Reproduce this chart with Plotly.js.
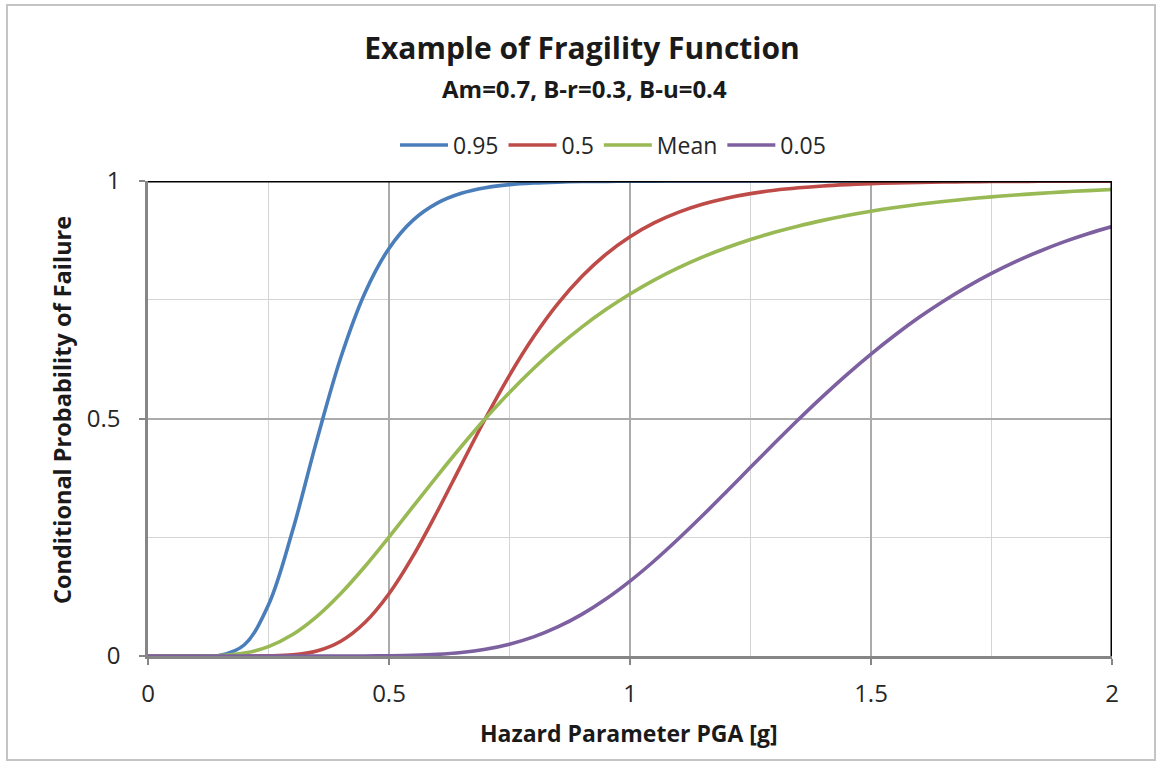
<!DOCTYPE html>
<html>
<head>
<meta charset="utf-8">
<script src="https://cdn.plot.ly/plotly-3.0.1.min.js"></script>
<style>
  html, body { margin: 0; padding: 0; background: #ffffff; }
  #chart { width: 1156px; height: 762px; }
</style>
</head>
<body>
<div id="chart"></div>
<script>
// ---- data ----
const pga = [0, 0.05, 0.10, 0.15, 0.20, 0.25, 0.30, 0.35, 0.40, 0.45, 0.50, 0.55, 0.60, 0.65, 0.70,
  0.75, 0.80, 0.85, 0.90, 0.95, 1.00, 1.05, 1.10, 1.15, 1.20, 1.25, 1.30, 1.35, 1.40, 1.45,
  1.50, 1.55, 1.60, 1.65, 1.70, 1.75, 1.80, 1.85, 1.90, 1.95, 2.00];

const p95 = [0, 0, 0, 0.0016, 0.0237, 0.1077, 0.2640, 0.4534, 0.6285, 0.7644, 0.8581, 0.9177, 0.9535,
  0.9742, 0.9859, 0.9923, 0.9958, 0.9977, 0.9988, 0.9993, 0.9996, 0.9998, 0.9999, 1, 1, 1, 1, 1, 1, 1,
  1, 1, 1, 1, 1, 1, 1, 1, 1, 1, 1];

const p50 = [0, 0, 0, 0, 0, 0.0003, 0.0024, 0.0104, 0.0311, 0.0704, 0.1310, 0.2107, 0.3037, 0.4024,
  0.5, 0.5909, 0.6719, 0.7413, 0.7989, 0.8457, 0.8828, 0.9118, 0.9340, 0.9510, 0.9638, 0.9734,
  0.9805, 0.9857, 0.9896, 0.9924, 0.9945, 0.9960, 0.9971, 0.9979, 0.9984, 0.9989, 0.9992, 0.9994,
  0.9996, 0.9997, 0.9998];

const pMean = [0, 0, 0.0001, 0.0010, 0.0061, 0.0197, 0.0451, 0.0829, 0.1316, 0.1884, 0.2505, 0.3148,
  0.3789, 0.4411, 0.5, 0.5549, 0.6053, 0.6511, 0.6924, 0.7293, 0.7621, 0.7913, 0.8170, 0.8396,
  0.8595, 0.8769, 0.8922, 0.9055, 0.9171, 0.9274, 0.9363, 0.9441, 0.9509, 0.9568, 0.9620, 0.9666,
  0.9705, 0.9740, 0.9771, 0.9798, 0.9821];

const p05 = [0, 0, 0, 0, 0, 0, 0, 0, 0, 0.0001, 0.0005, 0.0014, 0.0034, 0.0073, 0.0141, 0.0248, 0.0402,
  0.0611, 0.0876, 0.1199, 0.1576, 0.2000, 0.2462, 0.2951, 0.3458, 0.3972, 0.4483, 0.4984, 0.5466,
  0.5925, 0.6357, 0.6759, 0.7130, 0.7469, 0.7777, 0.8054, 0.8302, 0.8522, 0.8719, 0.8891, 0.9042];

const seriesNames = ["0.95", "0.5", "Mean", "0.05"];
const seriesData = [p95, p50, pMean, p05];
const seriesColors = ["#4A7EBB", "#BE4B48", "#98B954", "#7D60A0"];

const xTickVals = [0, 0.5, 1, 1.5, 2];
const xTickText = ["0", "0.5", "1", "1.5", "2"];
const yTickVals = [0, 0.5, 1];
const yTickText = ["0", "0.5", "1"];

const chartTitle = "Example of Fragility Function";
const chartSubtitle = "Am=0.7, B-r=0.3, B-u=0.4";
const xTitle = "Hazard Parameter PGA [g]";
const yTitle = "Conditional Probability of Failure";

// ---- chart ----
const FONT = "'Open Sans', Lato, sans-serif";
const traces = seriesNames.map((n, i) => ({
  x: pga, y: seriesData[i], name: n, type: "scatter", mode: "lines",
  line: { color: seriesColors[i], width: 3.6, shape: "spline", smoothing: 1 },
  hoverinfo: "x+y+name"
}));

const layout = {
  width: 1156, height: 762,
  paper_bgcolor: "#ffffff", plot_bgcolor: "#ffffff",
  margin: { l: 148, r: 44, t: 181, b: 106 },
  font: { family: FONT, color: "#262626" },
  showlegend: true,
  legend: {
    orientation: "h", x: (613 - 148) / 964, xanchor: "center", y: (656 - 145) / 475, yanchor: "middle",
    font: { size: 23, color: "#262626", family: FONT }, itemwidth: 48, tracegroupgap: 0
  },
  xaxis: {
    range: [0, 2], tickvals: xTickVals, ticktext: xTickText,
    ticks: "outside", ticklen: 6, tickwidth: 1.5, tickcolor: "#868686",
    showline: true, linecolor: "#868686", linewidth: 2.5,
    showgrid: true, gridcolor: "#ababab", gridwidth: 1.5,
    minor: { dtick: 0.25, showgrid: true, gridcolor: "#d4d4d4", gridwidth: 1.2, ticks: "" },
    zeroline: false, tickfont: { size: 24, color: "#262626", family: FONT },
    ticklabelstandoff: 8, layer: "below traces", fixedrange: true
  },
  yaxis: {
    range: [0, 1], tickvals: yTickVals, ticktext: yTickText,
    ticks: "outside", ticklen: 6, tickwidth: 1.5, tickcolor: "#868686",
    showline: true, linecolor: "#868686", linewidth: 2.5,
    showgrid: true, gridcolor: "#ababab", gridwidth: 1.5,
    minor: { dtick: 0.25, showgrid: true, gridcolor: "#d4d4d4", gridwidth: 1.2, ticks: "" },
    zeroline: false, tickfont: { size: 24, color: "#262626", family: FONT },
    ticklabelstandoff: 14, layer: "below traces", fixedrange: true
  },
  title: {
    text: "<b>" + chartTitle + "</b>", x: 582 / 1156, xanchor: "center",
    y: 1 - 48 / 762, yanchor: "middle", yref: "container",
    font: { size: 30, color: "#1a1a1a", family: FONT }
  },
  annotations: [
    { text: "<b>" + chartSubtitle + "</b>", xref: "paper", yref: "paper",
      x: (584 - 148) / 964, y: (656 - 88) / 475, xanchor: "center", yanchor: "middle",
      showarrow: false, font: { size: 24, color: "#1a1a1a", family: FONT } },
    { text: "<b>" + xTitle + "</b>", xref: "paper", yref: "paper",
      x: (629 - 148) / 964, y: (656 - 733) / 475, xanchor: "center", yanchor: "middle",
      showarrow: false, font: { size: 23, color: "#1a1a1a", family: FONT } },
    { text: "<b>" + yTitle + "</b>", xref: "paper", yref: "paper", textangle: -90,
      x: (62 - 148) / 964, y: (656 - 410) / 475, xanchor: "center", yanchor: "middle",
      showarrow: false, font: { size: 23.5, color: "#1a1a1a", family: FONT } }
  ],
  shapes: [
    { type: "line", xref: "x", yref: "y", x0: 0, x1: 2, y0: 1, y1: 1,
      line: { color: "#000000", width: 3 }, layer: "above" },
    { type: "line", xref: "x", yref: "y", x0: 2, x1: 2, y0: 0, y1: 1,
      line: { color: "#000000", width: 3 }, layer: "above" },
    { type: "rect", xref: "paper", yref: "paper",
      x0: (7 - 148) / 964, x1: (1155 - 148) / 964, y0: (656 - 760) / 475, y1: (656 - 5) / 475,
      line: { color: "#c4c4c4", width: 2 }, layer: "below" }
  ]
};

Plotly.newPlot("chart", traces, layout, { displayModeBar: false, responsive: false, staticPlot: false });
</script>
</body>
</html>
